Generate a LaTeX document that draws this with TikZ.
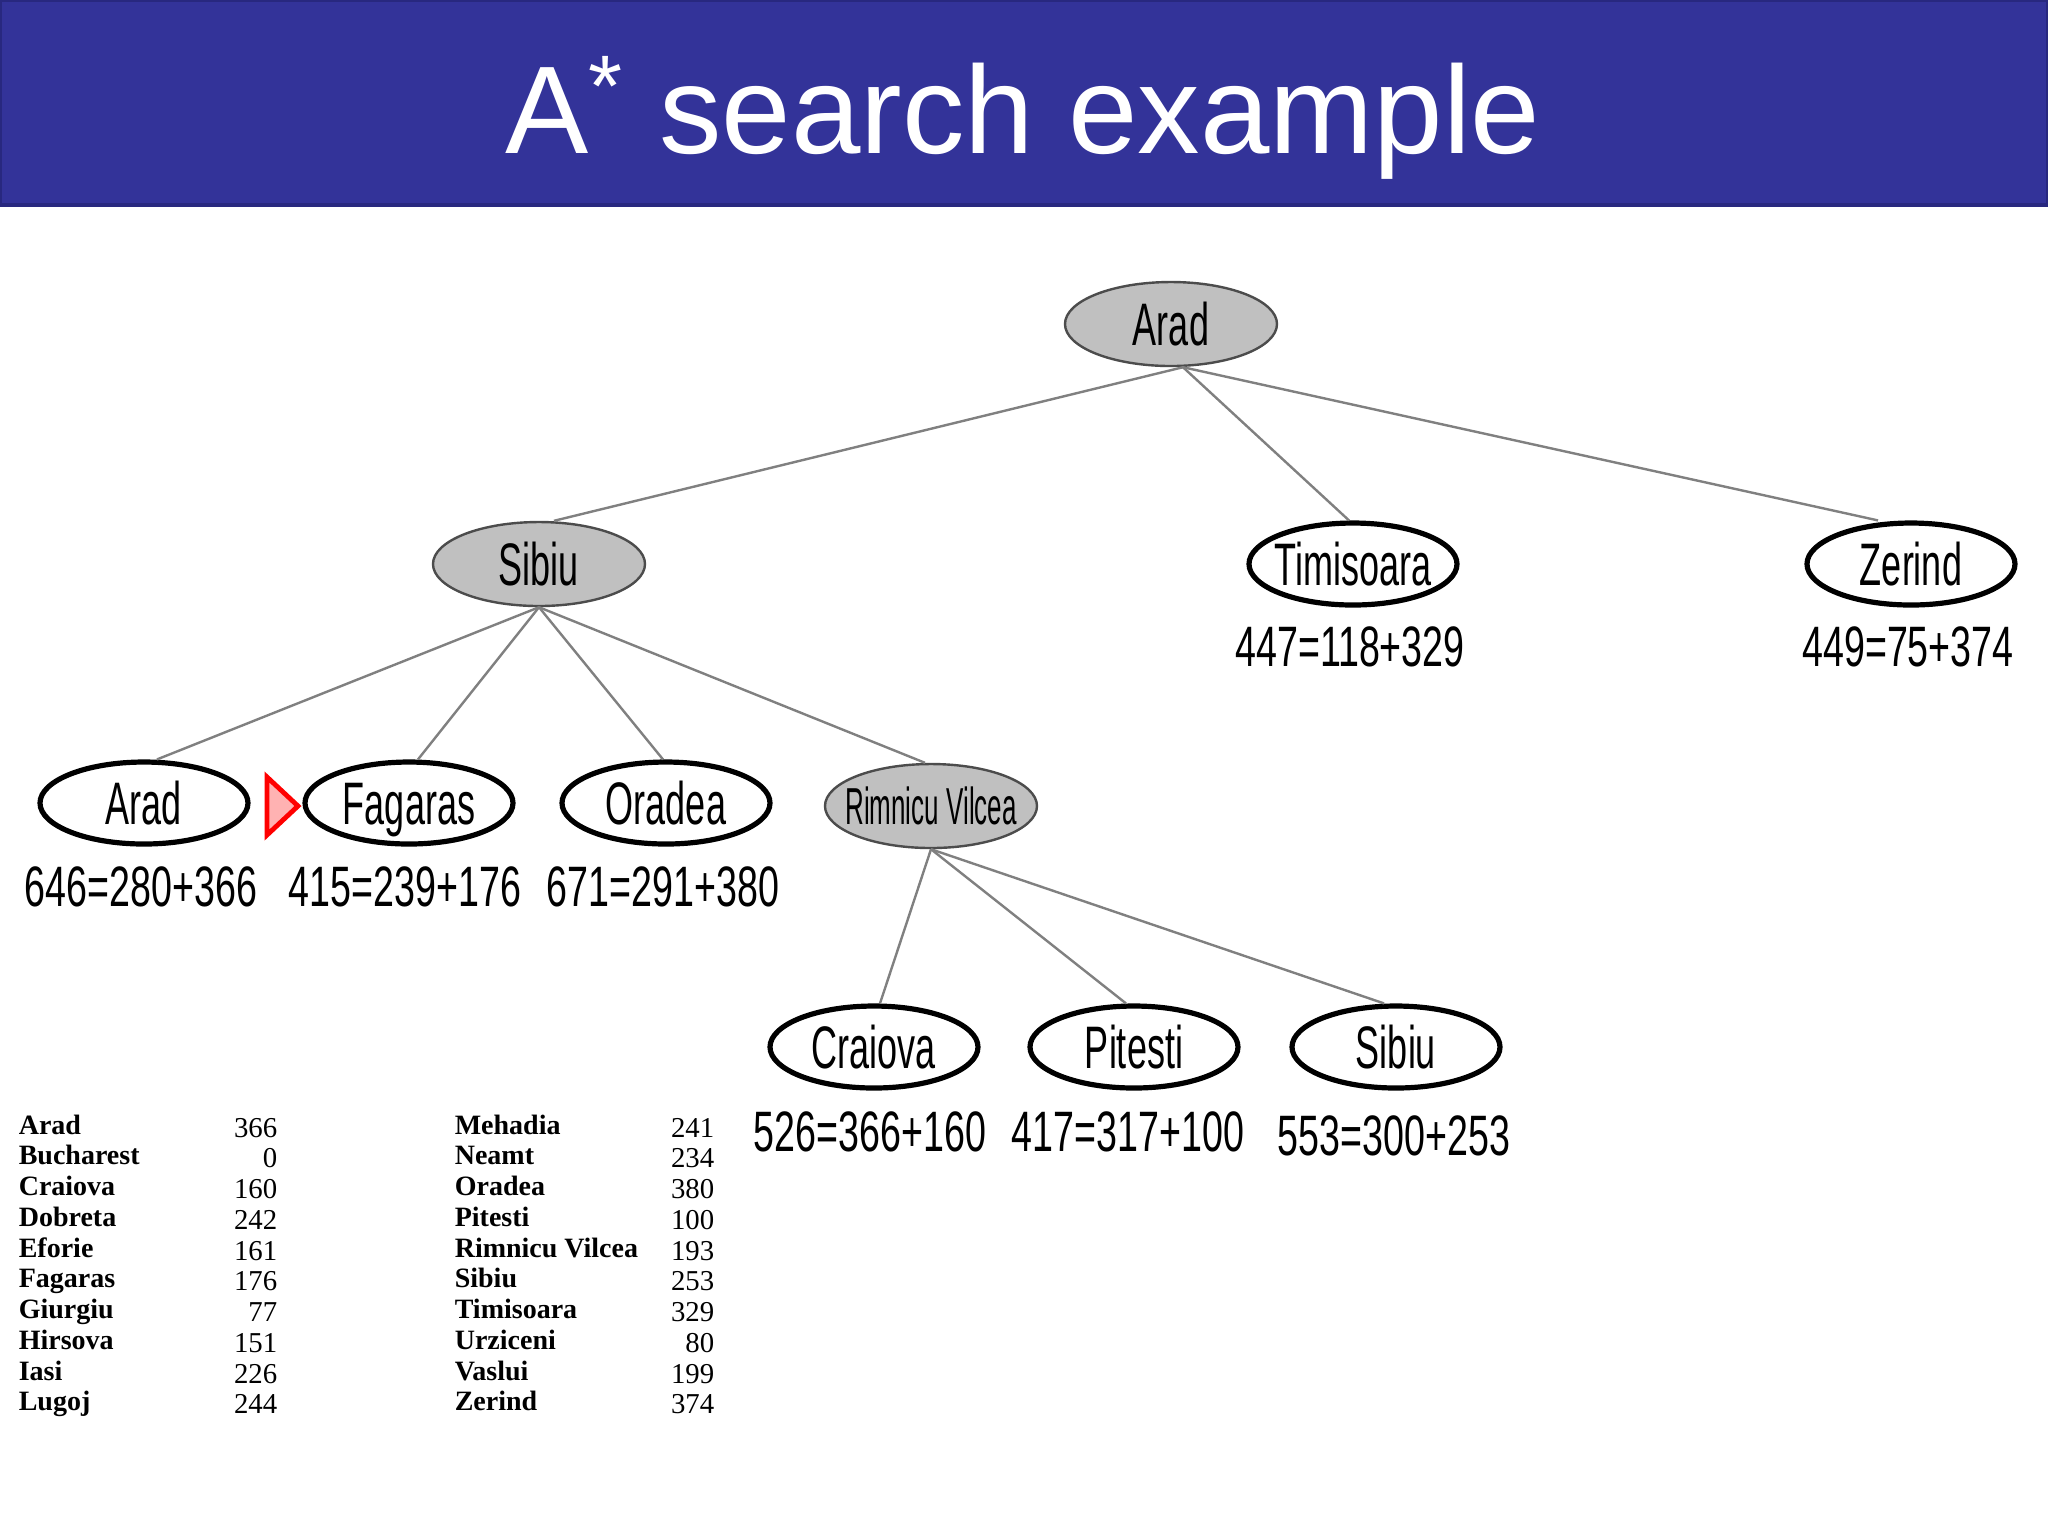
\documentclass[tikz,border=0pt]{standalone}
\usepackage{fontspec}
\setmainfont{Liberation Sans}
\newfontfamily\nodefont[FakeStretch=0.6]{Liberation Sans}
\newfontfamily\rvfont[FakeStretch=0.5]{Liberation Sans}
\newfontfamily\eqfont[FakeStretch=0.66]{Liberation Sans}
\newfontfamily\tabfont{Liberation Serif}
\usetikzlibrary{shapes.geometric,calc}
\definecolor{hdrblue}{HTML}{333399}
\definecolor{hdredge}{HTML}{28287F}
\definecolor{nodegray}{HTML}{C0C0C0}
\definecolor{edgegray}{HTML}{808080}
\begin{document}
\begin{tikzpicture}[x=0.25pt,y=-0.25pt,
  open/.style={ellipse, draw=black, line width=1.3pt, fill=white,
    minimum width=52pt, minimum height=20.5pt, inner sep=0pt,
    font=\nodefont\fontsize{15}{15}\selectfont, text height=10.75pt, text depth=0pt,
    execute at begin node={\hbox to 0pt\bgroup\hss}, execute at end node={\hss\egroup}},
  closed/.style={open, draw=gray!60!black, line width=0.6pt, fill=nodegray, minimum width=53pt, minimum height=21pt},
  cost/.style={anchor=base, inner sep=0pt, font=\eqfont\fontsize{14.25}{14.25}\selectfont},
  link/.style={draw=edgegray, line width=0.6pt},
  tname/.style={anchor=base west, inner sep=0pt, font=\tabfont\bfseries\fontsize{7}{8}\selectfont},
  tval/.style={anchor=base east, inner sep=0pt, font=\tabfont\fontsize{7.2}{8}\selectfont}]
\useasboundingbox (0,0) rectangle (2048,1536);
\fill[white] (0,0) rectangle (2048,1536);
\draw[fill=hdrblue, draw=hdredge, line width=1.2pt] (0,0) rectangle (2048,205);
\node[anchor=base, text=white, inner sep=0pt, font=\fontsize{31.2}{31.2}\selectfont] (title) at (1023,153) {A\textsuperscript{*} search example};

% tree nodes
\node[closed] (arad0) at (1171,324) {Arad};
\node[closed] (sibiu1) at (539,564) {Sibiu};
\node[open] (timi1) at (1353,564) {Timisoara};
\node[open] (zer1) at (1911,564) {Zerind};
\node[open] (arad2) at (144,803) {Arad};
\node[open] (fag2) at (409,803) {Fagaras};
\node[open] (ora2) at (666,803) {Oradea};
\node[closed, font=\rvfont\fontsize{13}{13}\selectfont, text height=9.3pt] (rv2) at (931,806) {Rimnicu Vilcea};
\node[open] (cra3) at (874,1047) {Craiova};
\node[open] (pit3) at (1134,1047) {Pitesti};
\node[open] (sib3) at (1396,1047) {Sibiu};

% connectors
\draw[link] ($(arad0.south)+(12,0)$) -- ($(sibiu1.north)+(15,0)$);
\draw[link] ($(arad0.south)+(12,0)$) -- ($(timi1.north)+(-4,0)$);
\draw[link] ($(arad0.south)+(12,0)$) -- ($(zer1.north)+(-33,0)$);
\draw[link] (sibiu1.south) -- ($(arad2.north)+(13,0)$);
\draw[link] (sibiu1.south) -- ($(fag2.north)+(9,0)$);
\draw[link] (sibiu1.south) -- ($(ora2.north)+(-3,0)$);
\draw[link] (sibiu1.south) -- ($(rv2.north)+(-6,0)$);
\draw[link] (rv2.south) -- ($(cra3.north)+(6,0)$);
\draw[link] (rv2.south) -- ($(pit3.north)+(-8,0)$);
\draw[link] (rv2.south) -- ($(sib3.north)+(-12,0)$);

% costs
\node[cost] (c-timi) at (1350,666) {447=118+329};
\node[cost] (c-zer) at (1908,666) {449=75+374};
\node[cost] (c-arad) at (141,906) {646=280+366};
\node[cost] (c-fag) at (405,906) {415=239+176};
\node[cost] (c-ora) at (663,906) {671=291+380};
\node[cost] (c-cra) at (870,1151) {526=366+160};
\node[cost] (c-pit) at (1128,1151) {417=317+100};
\node[cost] (c-sib) at (1394,1155) {553=300+253};

% red marker
\draw[red, fill=red!30, line width=1.2pt, line join=miter] (267,777) -- (298,806) -- (267,835) -- cycle;

% heuristic table
\foreach [count=\i from 0] \na/\va/\nb/\vb in {Arad/366/Mehadia/241, Bucharest/0/Neamt/234, Craiova/160/Oradea/380, Dobreta/242/Pitesti/100, Eforie/161/Rimnicu Vilcea/193, Fagaras/176/Sibiu/253, Giurgiu/77/Timisoara/329, Hirsova/151/Urziceni/80, Iasi/226/Vaslui/199, Lugoj/244/Zerind/374} {
  \node[tname] (ta\i) at (18,{1134+30.76*\i}) {\na};
  \node[tval] (va\i) at (278,{1137+30.76*\i}) {\va};
  \node[tname] (tb\i) at (454,{1134+30.76*\i}) {\nb};
  \node[tval] (vb\i) at (715,{1137+30.76*\i}) {\vb};
}
\end{tikzpicture}
\end{document}
